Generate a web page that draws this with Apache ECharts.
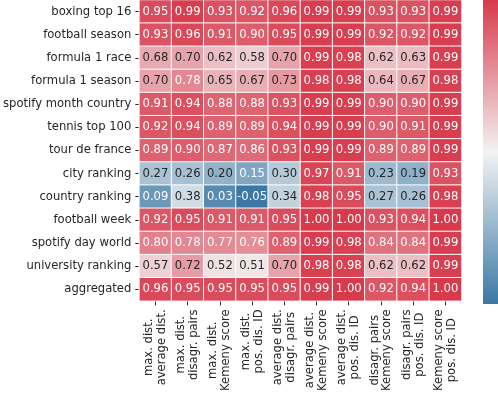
<!DOCTYPE html>
<html>
<head>
<meta charset="utf-8">
<script src="https://cdn.jsdelivr.net/npm/echarts@6/dist/echarts.min.js"></script>
<style>
html,body{margin:0;padding:0;background:#fff;}
#chart{width:498px;height:394px;}
</style>
</head>
<body>
<div id="chart"></div>
<script>
var rowLabels = ["boxing top 16","football season","formula 1 race","formula 1 season","spotify month country","tennis top 100","tour de france","city ranking","country ranking","football week","spotify day world","university ranking","aggregated"];
var colLabels = ["max. dist.\naverage dist.","max. dist.\ndisagr. pairs","max. dist.\nKemeny score","max. dist.\npos. dis. ID","average dist.\ndisagr. pairs","average dist.\nKemeny score","average dist.\npos. dis. ID","disagr. pairs\nKemeny score","disagr. pairs\npos. dis. ID","Kemeny score\npos. dis. ID"];

var boxingTop16        = [0.95,0.99,0.93,0.92,0.96,0.99,0.99,0.93,0.93,0.99];
var footballSeason     = [0.93,0.96,0.91,0.90,0.95,0.99,0.99,0.92,0.92,0.99];
var formula1Race       = [0.68,0.70,0.62,0.58,0.70,0.99,0.98,0.62,0.63,0.99];
var formula1Season     = [0.70,0.78,0.65,0.67,0.73,0.98,0.98,0.64,0.67,0.98];
var spotifyMonthCountry= [0.91,0.94,0.88,0.88,0.93,0.99,0.99,0.90,0.90,0.99];
var tennisTop100       = [0.92,0.94,0.89,0.89,0.94,0.99,0.99,0.90,0.91,0.99];
var tourDeFrance       = [0.89,0.90,0.87,0.86,0.93,0.99,0.99,0.89,0.89,0.99];
var cityRanking        = [0.27,0.26,0.20,0.15,0.30,0.97,0.91,0.23,0.19,0.93];
var countryRanking     = [0.09,0.38,0.03,-0.05,0.34,0.98,0.95,0.27,0.26,0.98];
var footballWeek       = [0.92,0.95,0.91,0.91,0.95,1.00,1.00,0.93,0.94,1.00];
var spotifyDayWorld    = [0.80,0.78,0.77,0.76,0.89,0.99,0.98,0.84,0.84,0.99];
var universityRanking  = [0.57,0.72,0.52,0.51,0.70,0.98,0.98,0.62,0.62,0.99];
var aggregated         = [0.96,0.95,0.95,0.95,0.95,0.99,1.00,0.92,0.94,1.00];

var rows = [boxingTop16,footballSeason,formula1Race,formula1Season,spotifyMonthCountry,tennisTop100,tourDeFrance,cityRanking,countryRanking,footballWeek,spotifyDayWorld,universityRanking,aggregated];

var vMin = -0.05, vMax = 1.0;
var stops = [[59,120,166],[242,242,242],[216,58,76]];
function hex(c){return '#'+c.map(function(x){var h=Math.round(x).toString(16);return h.length<2?'0'+h:h;}).join('');}
function cmap(v){
  var t=(v-vMin)/(vMax-vMin); t=Math.max(0,Math.min(1,t));
  var s=t*2, i=Math.min(1,Math.floor(s)), f=s-i;
  var a=stops[i], b=stops[i+1];
  return [a[0]+(b[0]-a[0])*f,a[1]+(b[1]-a[1])*f,a[2]+(b[2]-a[2])*f];
}
function lum(c){
  var r=c.map(function(x){x/=255;return x<=0.03928?x/12.92:Math.pow((x+0.055)/1.055,2.4);});
  return 0.2126*r[0]+0.7152*r[1]+0.0722*r[2];
}

var data=[];
rows.forEach(function(r,yi){
  r.forEach(function(v,xi){
    var c=cmap(v);
    data.push({value:[xi,yi,v],label:{color: lum(c)>0.408 ? '#262626' : '#ffffff'}});
  });
});

var FONT='DejaVu Sans';
var FS=11.6;

var chart=echarts.init(document.getElementById('chart'));
chart.setOption({
  animation:false,
  backgroundColor:'#fff',
  grid:{left:135,top:0,width:326.5,height:304.3,containLabel:false},
  xAxis:{
    type:'category',data:colLabels,position:'bottom',
    axisLine:{show:false},
    axisTick:{show:true,alignWithLabel:true,length:4.5,lineStyle:{color:'#262626',width:1}},
    axisLabel:{
      interval:0,rotate:90,margin:8.5,color:'#262626',fontFamily:FONT,fontSize:FS,
      formatter:function(s){return s.split('\n').map(function(l){return '{a|'+l+'}';}).join('\n');},
      rich:{a:{align:'center',fontFamily:FONT,fontSize:FS,color:'#262626',lineHeight:12.8}}
    },
    splitLine:{show:false}
  },
  yAxis:{
    type:'category',data:rowLabels,inverse:true,
    axisLine:{show:false},
    axisTick:{show:true,alignWithLabel:true,length:4,lineStyle:{color:'#262626',width:1}},
    axisLabel:{interval:0,margin:8,color:'#262626',fontFamily:FONT,fontSize:FS},
    splitLine:{show:false}
  },
  visualMap:{
    type:'continuous',min:vMin,max:vMax,calculable:false,show:false,
    inRange:{color:stops.map(hex)}
  },
  graphic:[{
    type:'rect',left:483,top:0,silent:true,
    shape:{width:16,height:304},
    style:{fill:new echarts.graphic.LinearGradient(0,1,0,0,[
      {offset:0,color:hex(stops[0])},{offset:0.5,color:hex(stops[1])},{offset:1,color:hex(stops[2])}
    ])}
  }],
  series:[{
    type:'heatmap',data:data,
    itemStyle:{borderColor:'#ffffff',borderWidth:1},
    label:{show:true,fontFamily:FONT,fontSize:FS,
      formatter:function(p){return p.value[2].toFixed(2);}},
    emphasis:{disabled:true}
  }]
});
</script>
</body>
</html>
